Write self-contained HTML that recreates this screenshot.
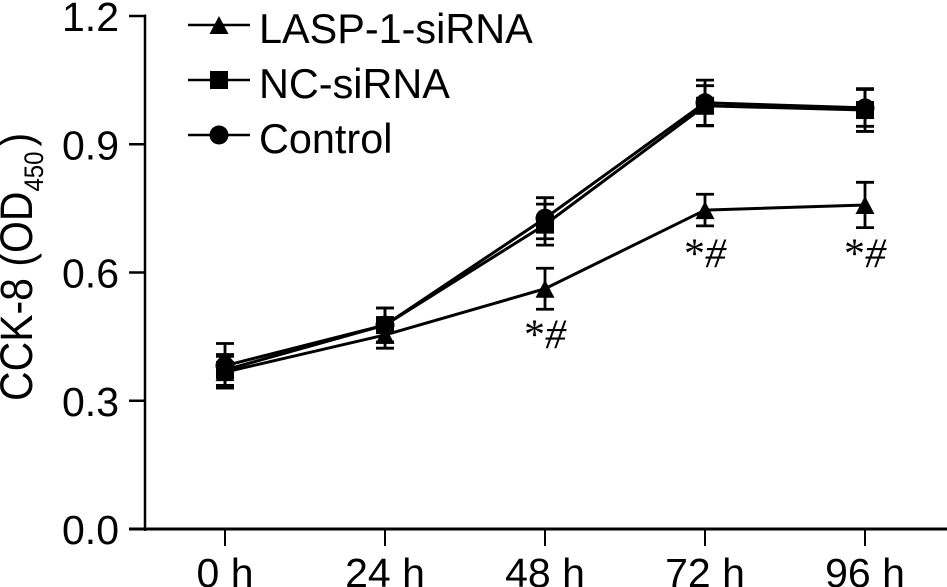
<!DOCTYPE html>
<html lang="en">
<head>
<meta charset="utf-8">
<title>CCK-8 chart</title>
<style>
html,body{margin:0;padding:0;background:#fff;width:947px;height:587px;overflow:hidden}
svg{display:block;font-family:"Liberation Sans",Arial,sans-serif;fill:#000}
</style>
</head>
<body>
<svg id="chart" width="947" height="587" viewBox="0 0 947 587" xmlns="http://www.w3.org/2000/svg">
  <g>
    <text transform="translate(32,401) rotate(-90) scale(1,1.1)" font-size="41">CCK-8 (OD<tspan font-size="24" dy="10">450</tspan><tspan dy="-10" dx="5">)</tspan></text>
  </g>
  <g id="axes"></g>
  <g id="series"></g>
  <g id="annotations"></g>
  <g id="legend"></g>
</svg>
<script>
const categories = ['0 h', '24 h', '48 h', '72 h', '96 h'];
const yTicks = ['0.0', '0.3', '0.6', '0.9', '1.2'];
const seriesNames = ['LASP-1-siRNA', 'NC-siRNA', 'Control'];
const laspValues = [0.367, 0.454, 0.562, 0.746, 0.758];
const ncValues = [0.372, 0.477, 0.712, 0.990, 0.980];
const controlValues = [0.382, 0.477, 0.727, 0.997, 0.985];
const laspErrors = [0.037, 0.031, 0.048, 0.037, 0.053];
const ncErrors = [0.036, 0.040, 0.048, 0.047, 0.050];
const controlErrors = [0.052, 0.040, 0.048, 0.053, 0.043];
const annotatedCategories = ['48 h', '72 h', '96 h'];
const annotatedValues = [0.455, 0.645, 0.645];

const NS = 'http://www.w3.org/2000/svg';
const AXIS_X = 145, AXIS_Y = 529, PX_PER_UNIT = 427.5;
const FIRST_TICK_X = 225, STEP_X = 160;

function xScale(i) { return FIRST_TICK_X + STEP_X * i; }
function yScale(v) { return AXIS_Y - v * PX_PER_UNIT; }
function make(tag, attrs, parent) {
  const el = document.createElementNS(NS, tag);
  for (const k in attrs) el.setAttribute(k, attrs[k]);
  parent.appendChild(el);
  return el;
}
function marker(kind, cx, cy, parent) {
  if (kind === 'triangle') {
    return make('polygon', { points: (cx - 9.5) + ',' + (cy + 9) + ' ' + (cx + 9.5) + ',' + (cy + 9) + ' ' + cx + ',' + (cy - 9) }, parent);
  }
  if (kind === 'square') {
    return make('rect', { x: cx - 9, y: cy - 9, width: 18, height: 18 }, parent);
  }
  return make('circle', { cx: cx, cy: cy, r: 9.5 }, parent);
}

const axes = document.getElementById('axes');
const yLine = make('line', { x1: AXIS_X, x2: AXIS_X, y1: yScale(1.2) - 1.5, y2: AXIS_Y + 2, stroke: '#000', 'stroke-width': 2.5 }, axes);


const xLine = make('line', { x1: 129, x2: 947, y1: AXIS_Y, y2: AXIS_Y, stroke: '#000', 'stroke-width': 3 }, axes);



yTicks.forEach(function (label) {
  const y = yScale(parseFloat(label));
  const tick = make('line', { x1: 129, x2: AXIS_X, y1: y, y2: y, stroke: '#000', 'stroke-width': 2.5 }, axes);
  
  
  const text = make('text', { x: 119, y: y + 15, 'text-anchor': 'end', 'font-size': 41 }, axes);
  text.textContent = label;
  
  
});

categories.forEach(function (label, i) {
  const x = xScale(i);
  const tick = make('line', { x1: x, x2: x, y1: AXIS_Y, y2: 546, stroke: '#000', 'stroke-width': 2 }, axes);
  
  
  const text = make('text', { x: x, y: 587, 'text-anchor': 'middle', 'font-size': 41 }, axes);
  text.textContent = label;
  
  
});

const seriesRoot = document.getElementById('series');
function drawSeries(name, values, errors, kind) {
  const g = make('g', {}, seriesRoot);
  
  
  values.forEach(function (v, i) {
    const x = xScale(i);
    const top = yScale(v + errors[i]);
    const bottom = yScale(v - errors[i]);
    const bar = make('path', {
      d: 'M' + x + ' ' + top + 'V' + bottom + 'M' + (x - 9) + ' ' + top + 'H' + (x + 9) + 'M' + (x - 9) + ' ' + bottom + 'H' + (x + 9),
      fill: 'none', stroke: '#000', 'stroke-width': 2.8
    }, g);
    
    
  });
  const line = make('polyline', {
    points: values.map(function (v, i) { return xScale(i) + ',' + yScale(v); }).join(' '),
    fill: 'none', stroke: '#000', 'stroke-width': 3
  }, g);
  
  
  values.forEach(function (v, i) {
    const m = marker(kind, xScale(i), yScale(v), g);
    
    
  });
}
drawSeries('lasp', laspValues, laspErrors, 'triangle');
drawSeries('nc', ncValues, ncErrors, 'square');
drawSeries('control', controlValues, controlErrors, 'circle');

const annotations = document.getElementById('annotations');
annotatedCategories.forEach(function (cat, i) {
  const x = xScale(categories.indexOf(cat));
  const y = yScale(annotatedValues[i]);
  const t = make('text', { x: x, y: y + 14, 'text-anchor': 'middle', 'font-size': 42, 'font-family': '"Liberation Serif",serif' }, annotations);
  const star = make('tspan', {}, t);
  star.textContent = '*';
  const hash = make('tspan', { 'font-style': 'italic' }, t);
  hash.textContent = '#';
  
  
});

const legend = document.getElementById('legend');
const legendKinds = ['triangle', 'square', 'circle'];
const legendRowY = [25, 80, 135];
seriesNames.forEach(function (name, i) {
  const g = make('g', {}, legend);
  
  
  make('line', { x1: 188, x2: 250, y1: legendRowY[i], y2: legendRowY[i], stroke: '#000', 'stroke-width': 2.5 }, g);
  marker(legendKinds[i], 219, legendRowY[i], g);
  const t = make('text', { x: 259, y: legendRowY[i] + 18, 'font-size': 41.4 }, g);
  t.textContent = name;
});
</script>
</body>
</html>
